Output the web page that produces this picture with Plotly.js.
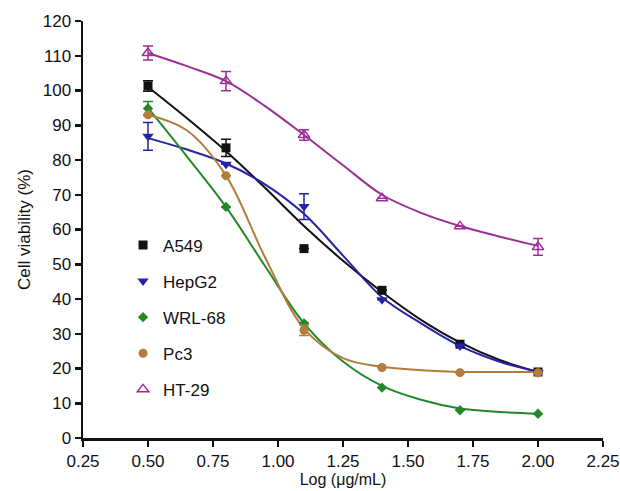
<!DOCTYPE html>
<html>
<head>
<meta charset="utf-8">
<script src="https://cdn.plot.ly/plotly-3.0.1.min.js"></script>
<style>html,body{margin:0;padding:0;background:#fff;}#chart{width:620px;height:491px;}</style>
</head>
<body>
<div id="chart"></div>
<script>
// Measured points: log concentration
var doseX = [0.5, 0.8, 1.1, 1.4, 1.7, 2.0];
var a549 = [101.3, 83.5, 54.5, 42.5, 27.0, 19.0];
var a549Err = [1.5, 2.5, 0, 0, 0, 0];
var hepg2 = [86.8, 78.8, 66.6, 39.8, 26.5, 18.8];
var hepg2Err = [4.0, 0, 3.7, 0, 0, 0];
var wrl68 = [94.8, 66.5, 33.0, 14.5, 8.0, 7.0];
var wrl68Err = [2.0, 0, 0, 0, 0, 0];
var pc3 = [93.0, 75.5, 31.0, 20.3, 18.8, 18.8];
var pc3Err = [0, 0, 1.5, 0, 0, 0];
var ht29 = [110.8, 102.7, 87.2, 69.0, 60.9, 55.0];
var ht29Err = [2.0, 2.8, 1.5, 0, 0, 2.4];

// Fitted curves
var fitX = [0.5, 0.65, 0.8, 0.95, 1.1, 1.25, 1.4, 1.55, 1.7, 1.85, 2.0];
var a549Fit = [101.0, 92.0, 82.5, 72.0, 61.0, 51.0, 42.0, 34.0, 27.5, 22.5, 19.0];
var hepg2Fit = [86.3, 83.0, 79.0, 73.0, 64.5, 52.5, 40.5, 33.0, 26.5, 22.0, 19.0];
var wrl68Fit = [95.0, 81.0, 66.5, 49.5, 33.0, 22.0, 15.0, 11.0, 8.5, 7.5, 7.0];
var pc3Fit = [93.0, 88.5, 75.5, 52.0, 31.5, 23.0, 20.5, 19.5, 19.0, 19.0, 19.0];
var ht29Fit = [110.8, 107.0, 102.7, 95.5, 87.2, 78.5, 70.0, 64.8, 61.0, 58.0, 55.3];

var names = ["A549", "HepG2", "WRL-68", "Pc3", "HT-29"];
var yPts = [a549, hepg2, wrl68, pc3, ht29];
var yErr = [a549Err, hepg2Err, wrl68Err, pc3Err, ht29Err];
var yFit = [a549Fit, hepg2Fit, wrl68Fit, pc3Fit, ht29Fit];
var colors = ["#111111", "#2424a8", "#22882a", "#b27c3c", "#9c2f96"];
var symbols = ["square", "triangle-down", "diamond", "circle", "triangle-up-open"];
var sizes = [9, 10, 8, 9, 10];

var traces = [];
for (var i = 0; i < names.length; i++) {
  traces.push({
    x: fitX, y: yFit[i], type: "scatter", mode: "lines",
    line: {color: colors[i], width: 2, shape: "spline", smoothing: 1},
    showlegend: false, hoverinfo: "skip"
  });
}
for (var j = 0; j < names.length; j++) {
  traces.push({
    x: doseX, y: yPts[j], type: "scatter", mode: "markers", name: names[j],
    legendgroup: "g" + j,
    marker: {color: colors[j], symbol: symbols[j], size: sizes[j],
             line: {color: colors[j], width: symbols[j].indexOf("open") >= 0 ? 1.5 : 0}},
    error_y: {type: "data", array: yErr[j], visible: true, color: colors[j], thickness: 1.5, width: 5}
  });
}

var layout = {
  width: 620, height: 491,
  margin: {l: 83, r: 17, t: 21, b: 53},
  paper_bgcolor: "#ffffff", plot_bgcolor: "#ffffff",
  font: {family: "Liberation Sans, Arial, sans-serif", size: 17, color: "#111"},
  showlegend: true,
  legend: {x: 0.077, y: 0.505, xanchor: "left", yanchor: "top", bgcolor: "rgba(0,0,0,0)",
           font: {size: 17, color: "#111"}, tracegroupgap: 11, itemwidth: 30},
  xaxis: {
    range: [0.25, 2.25], tick0: 0.25, dtick: 0.25, tickformat: ".2f",
    showline: true, linecolor: "#111", linewidth: 2.5, ticks: "outside", ticklen: 6,
    tickwidth: 2.5, tickcolor: "#111", showgrid: false, zeroline: false,
    tickfont: {size: 17},
    title: {text: "Log (μg/mL)", font: {size: 16}, standoff: 3}
  },
  yaxis: {
    range: [0, 120], dtick: 10,
    showline: true, linecolor: "#111", linewidth: 2.5, ticks: "outside", ticklen: 6,
    tickwidth: 2.5, tickcolor: "#111", showgrid: false, zeroline: false,
    tickfont: {size: 17},
    title: {text: "Cell viability (%)", font: {size: 17}, standoff: 8}
  }
};

Plotly.newPlot("chart", traces, layout, {displayModeBar: false, staticPlot: true});
</script>
</body>
</html>
